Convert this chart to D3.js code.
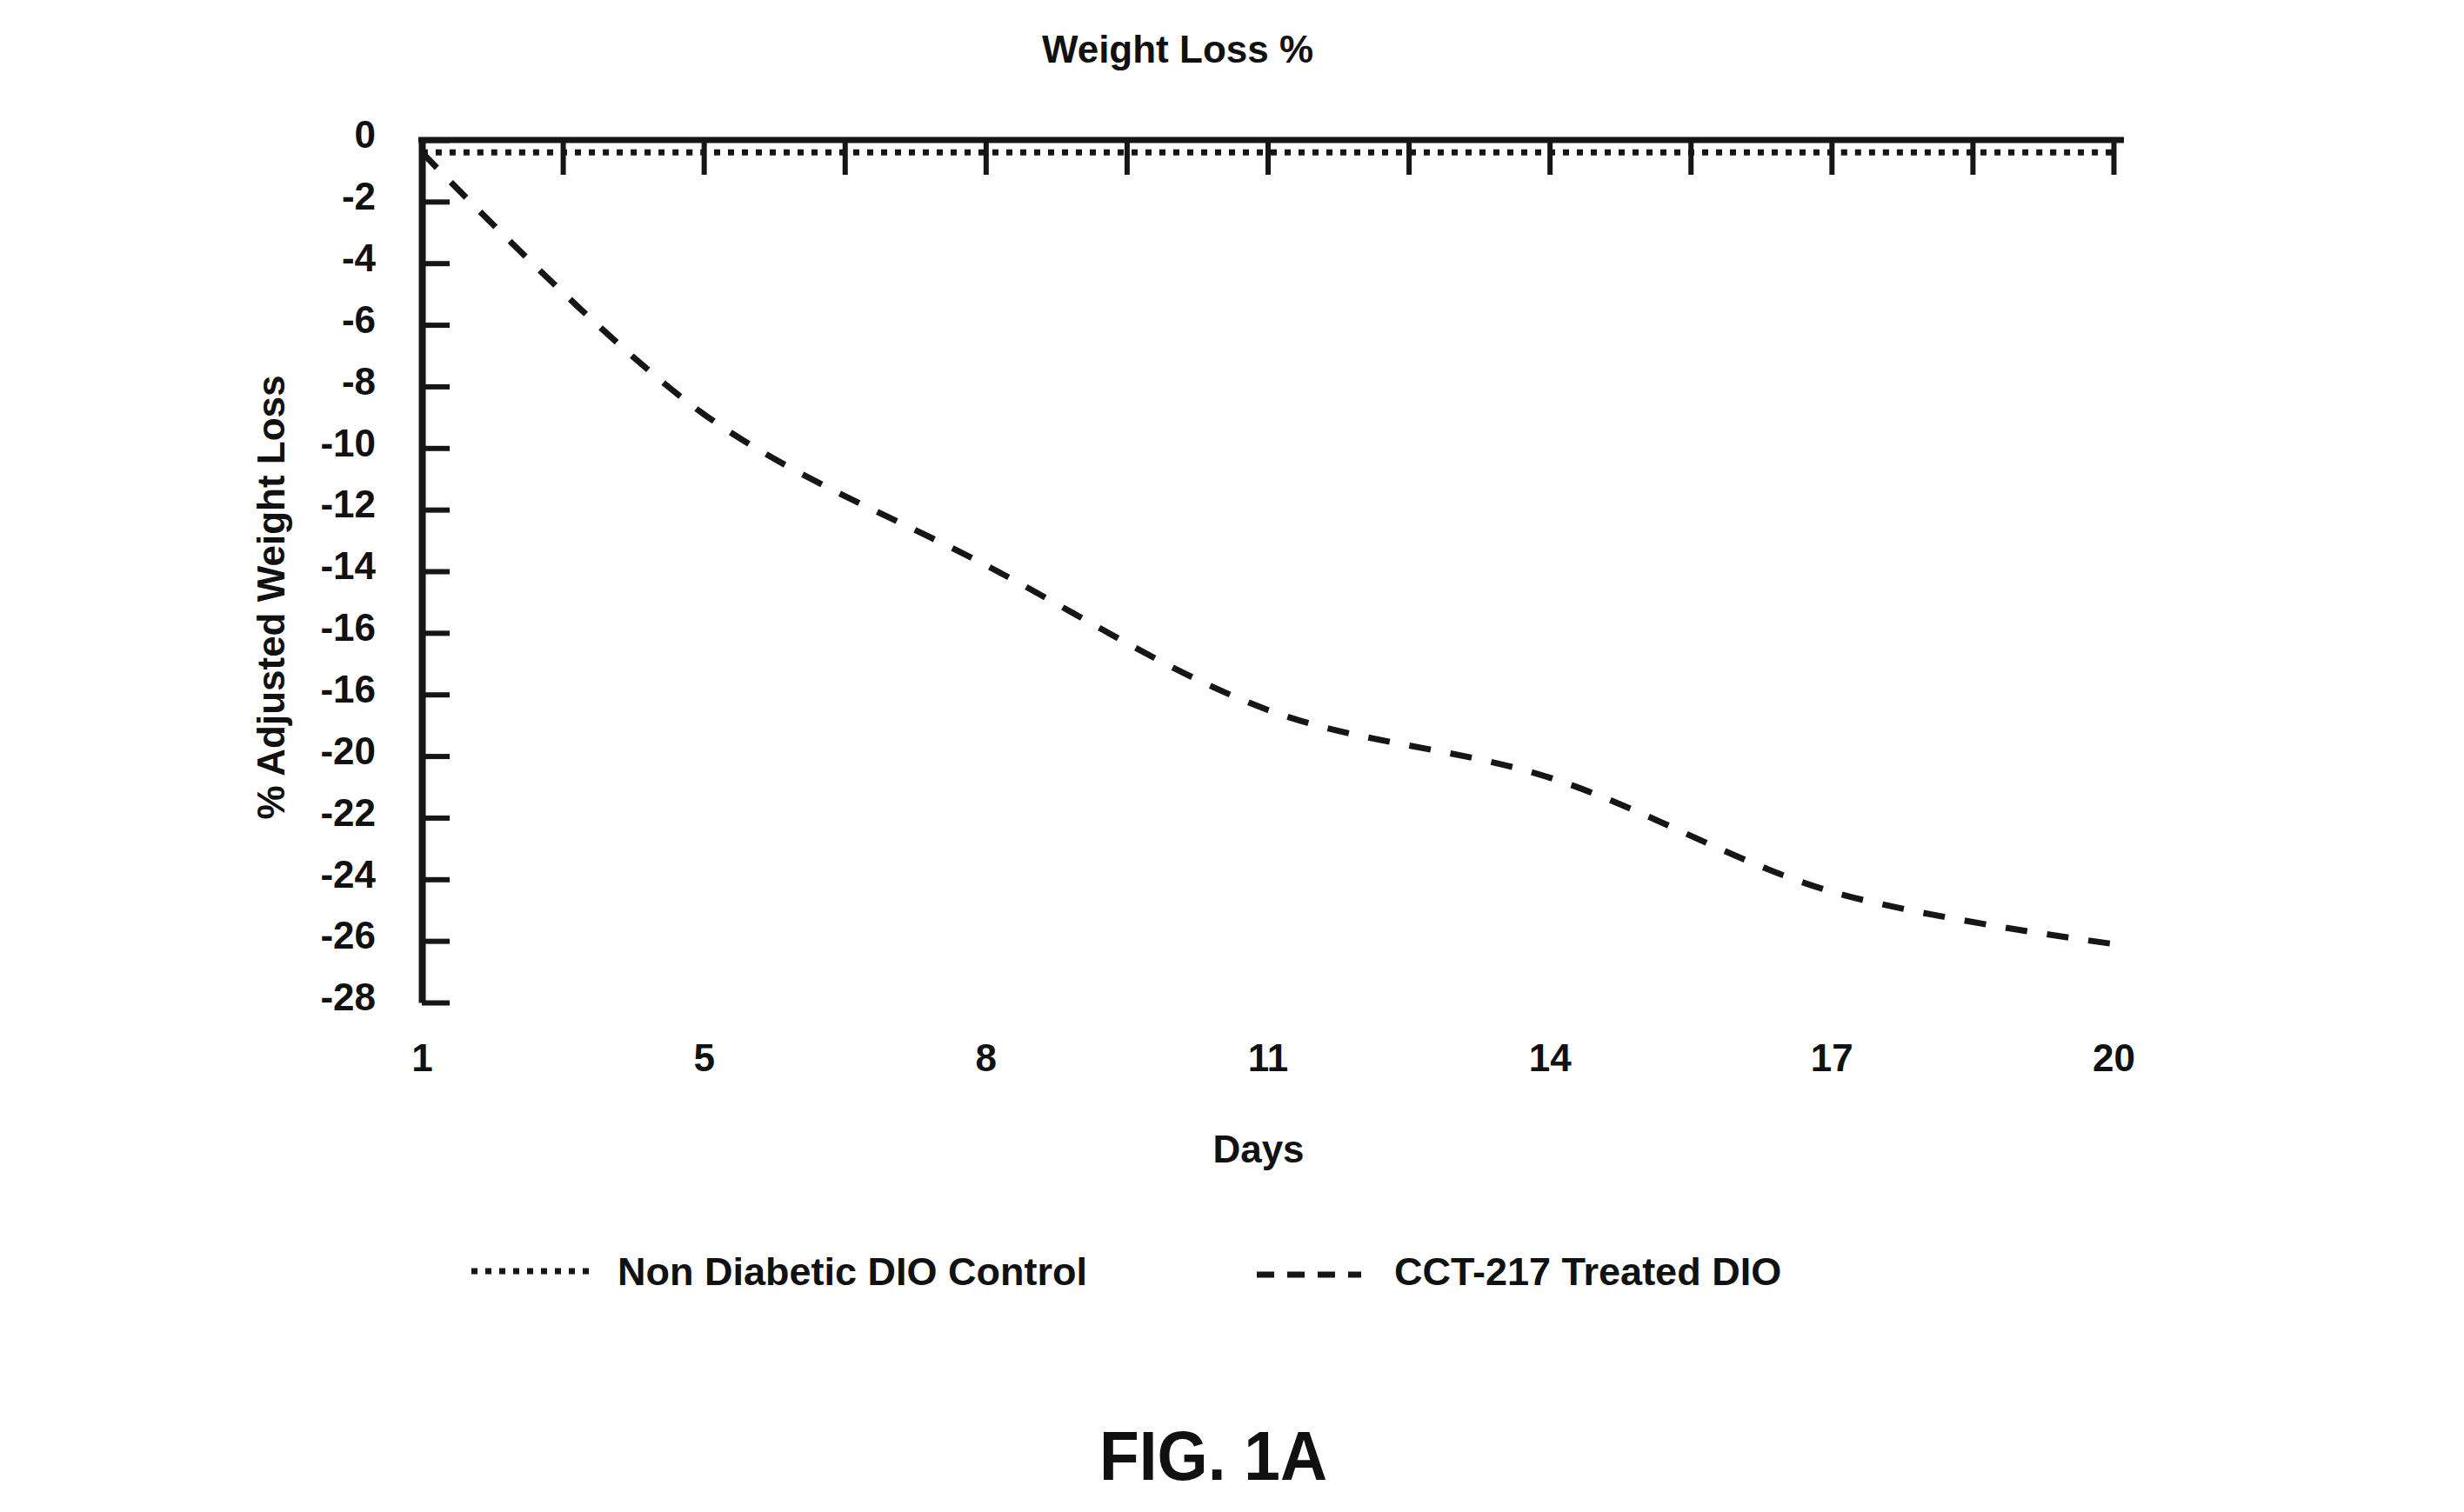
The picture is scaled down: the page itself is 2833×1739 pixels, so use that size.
<!DOCTYPE html>
<html>
<head>
<meta charset="utf-8">
<script src="https://cdn.jsdelivr.net/npm/d3@7"></script>
<style>
  body { margin: 0; background: #fff; }
  text { font-family: "Liberation Sans", Arial, sans-serif; font-weight: bold; fill: #111; }
</style>
</head>
<body>
<svg width="2833" height="1739"></svg>
<script>
// data
const dayLabels = ["1", "5", "8", "11", "14", "17", "20"];
const controlValues = [-0.4, -0.4, -0.4, -0.4, -0.4, -0.4, -0.4];
const treatedValues = [-0.4, -8.9, -13.8, -18.5, -20.7, -24.4, -26.1];
const yTickValues = [0, -2, -4, -6, -8, -10, -12, -14, -16, -18, -20, -22, -24, -26, -28];
const yTickLabels = ["0", "-2", "-4", "-6", "-8", "-10", "-12", "-14", "-16", "-16", "-20", "-22", "-24", "-26", "-28"];
const seriesNames = ["Non Diabetic DIO Control", "CCT-217 Treated DIO"];

const svg = d3.select("svg");
const plotLeft = 485, plotRight = 2430, plotTop = 161, plotBottom = 1153;
const ink = "#161616";

const x = d3.scalePoint().domain(dayLabels).range([plotLeft, plotRight]);
const xIdx = d3.scaleLinear().domain([0, dayLabels.length - 1]).range([plotLeft, plotRight]);
const y = d3.scaleLinear().domain([0, -28]).range([plotTop, plotBottom]);

// top axis (y = 0 line) with ticks hanging down, one between each pair of days
const topAxis = svg.append("g")
  .attr("transform", `translate(0,${plotTop})`)
  .call(d3.axisTop(xIdx)
    .tickValues(d3.range(0, dayLabels.length - 1 + 0.01, 0.5))
    .tickSizeInner(-40).tickSizeOuter(0)
    .tickFormat(""));
topAxis.select(".domain").attr("stroke", ink).attr("stroke-width", 7)
  .attr("d", `M${plotLeft - 4},0H${plotRight + 12}`);
topAxis.selectAll(".tick line").attr("stroke", ink).attr("stroke-width", 6);

// left axis, ticks pointing into the plot
const leftAxis = svg.append("g")
  .attr("transform", `translate(${plotLeft},0)`)
  .call(d3.axisLeft(y)
    .tickValues(yTickValues)
    .tickSizeInner(-32).tickSizeOuter(0)
    .tickPadding(53)
    .tickFormat((d, i) => yTickLabels[i]));
leftAxis.select(".domain").attr("stroke", ink).attr("stroke-width", 8);
leftAxis.selectAll(".tick line").attr("stroke", ink).attr("stroke-width", 6);
leftAxis.selectAll(".tick text")
  .attr("font-size", 44).attr("dy", "0.2em")
  .style("font-family", "'Liberation Sans', Arial, sans-serif").style("font-weight", "bold").attr("fill", ink);

// category labels below the plot
const bottomAxis = svg.append("g")
  .attr("transform", `translate(0,${plotBottom})`)
  .call(d3.axisBottom(x).tickSize(0).tickPadding(48));
bottomAxis.select(".domain").remove();
bottomAxis.selectAll(".tick text")
  .attr("font-size", 44)
  .style("font-family", "'Liberation Sans', Arial, sans-serif").style("font-weight", "bold").attr("fill", ink);

// series
const line = d3.line()
  .x((d, i) => x(dayLabels[i]))
  .y(d => y(d))
  .curve(d3.curveCatmullRom.alpha(0.5));

svg.append("path")
  .datum(controlValues)
  .attr("d", line)
  .attr("fill", "none")
  .attr("stroke", ink)
  .attr("stroke-width", 7)
  .attr("stroke-dasharray", "7 9");

svg.append("path")
  .datum(treatedValues)
  .attr("d", line)
  .attr("fill", "none")
  .attr("stroke", ink)
  .attr("stroke-width", 7)
  .attr("stroke-dasharray", "25 23");

// titles
svg.append("text").attr("x", 1354).attr("y", 72)
  .attr("text-anchor", "middle").attr("font-size", 44).text("Weight Loss %");

svg.append("text").attr("x", 1447).attr("y", 1337)
  .attr("text-anchor", "middle").attr("font-size", 44).text("Days");

svg.append("text")
  .attr("transform", "translate(327,687) rotate(-90)")
  .attr("text-anchor", "middle").attr("font-size", 44).text("% Adjusted Weight Loss");

// legend
const legend = [
  { name: seriesNames[0], dash: "7 9", x0: 542, x1: 678, ly: 1462, tx: 710 },
  { name: seriesNames[1], dash: "20 15", x0: 1445, x1: 1565, ly: 1466, tx: 1603 }
];
legend.forEach(l => {
  svg.append("line")
    .attr("x1", l.x0).attr("x2", l.x1).attr("y1", l.ly).attr("y2", l.ly)
    .attr("stroke", ink).attr("stroke-width", 7)
    .attr("stroke-dasharray", l.dash);
  svg.append("text").attr("x", l.tx).attr("y", 1478)
    .attr("font-size", 45).text(l.name);
});

svg.append("text").attr("x", 1395).attr("y", 1702)
  .attr("text-anchor", "middle").attr("font-size", 80)
  .attr("textLength", 262).attr("lengthAdjust", "spacingAndGlyphs")
  .text("FIG. 1A");
</script>
</body>
</html>
